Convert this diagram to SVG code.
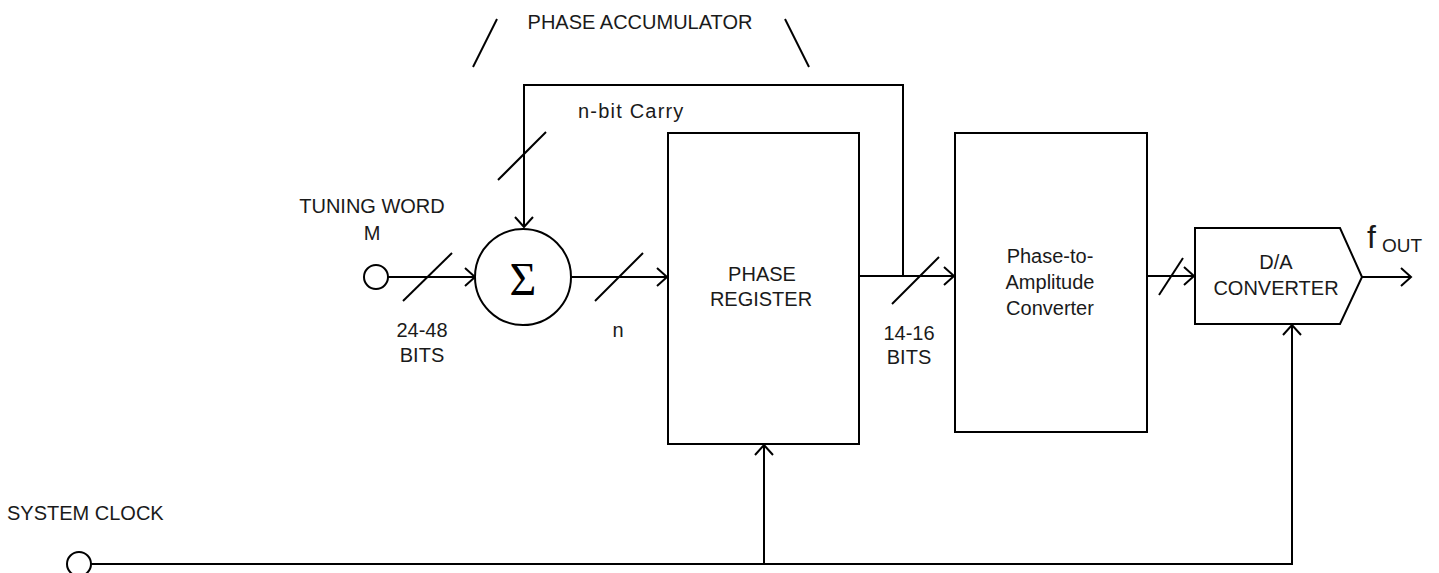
<svg xmlns="http://www.w3.org/2000/svg" width="1439" height="573" viewBox="0 0 1439 573">
<style>
.ln{stroke:#000;stroke-width:2;fill:none}
.bx{stroke:#000;stroke-width:2;fill:#fff}
.t{font-family:"Liberation Sans",Arial,sans-serif;font-size:20px;fill:#1a1a1a}
.m{text-anchor:middle}
.arr{marker-end:url(#ah)}
</style>
<defs>
<marker id="ah" markerUnits="userSpaceOnUse" viewBox="0 0 10 20" refX="10" refY="10" markerWidth="10" markerHeight="20" orient="auto" overflow="visible">
<path d="M0,1 L10,10 L0,19" fill="none" stroke="#000" stroke-width="2"/>
</marker>
</defs>
<rect width="1439" height="573" fill="#fff"/>
<g id="connectors">
<path class="ln arr" d="M388,277 H475"/>
<path class="ln arr" d="M571,277 H667"/>
<path class="ln arr" d="M859,276 H954"/>
<path class="ln arr" d="M1147,276 H1194"/>
<path class="ln arr" d="M1362,277 H1411"/>
<path class="ln arr" d="M903,276 V85 H524 V227"/>
<path class="ln arr" d="M91,564 H1292 V325"/>
<path class="ln arr" d="M764,564 V445"/>
<path class="ln" d="M403,301 L452,253"/>
<path class="ln" d="M595,301 L643,253"/>
<path class="ln" d="M498,180 L546,132"/>
<path class="ln" d="M892,304 L939,257"/>
<path class="ln" d="M1159,295 L1183,258"/>
</g>
<g id="phase-accumulator-label">
<text class="t m" x="640" y="29">PHASE ACCUMULATOR</text>
<path class="ln" d="M473,67 L497,19"/>
<path class="ln" d="M785,19 L809,67"/>
</g>
<g id="carry-label"><text class="t" x="578" y="118" style="letter-spacing:1.2px">n-bit Carry</text></g>
<g id="tuning-word">
<circle class="bx" cx="376" cy="277" r="12"/>
<text class="t m" x="372" y="213">TUNING WORD</text>
<text class="t m" x="372" y="240">M</text>
<text class="t m" x="422" y="337">24-48</text>
<text class="t m" x="422" y="362">BITS</text>
</g>
<g id="sigma">
<circle class="bx" cx="523" cy="277" r="48"/>
<text x="523" y="295" text-anchor="middle" font-family="'Liberation Serif','Times New Roman',serif" font-size="46" fill="#000">Σ</text>
</g>
<g id="n-label"><text class="t m" x="618" y="337">n</text></g>
<g id="phase-register">
<rect class="bx" x="668" y="133" width="191" height="311"/>
<text class="t m" x="762" y="281">PHASE</text>
<text class="t m" x="761" y="306">REGISTER</text>
</g>
<g id="bits-label">
<text class="t m" x="909" y="340">14-16</text>
<text class="t m" x="909" y="364">BITS</text>
</g>
<g id="phase-to-amplitude">
<rect class="bx" x="955" y="133" width="192" height="299"/>
<text class="t m" x="1050" y="263">Phase-to-</text>
<text class="t m" x="1050" y="289">Amplitude</text>
<text class="t m" x="1050" y="315">Converter</text>
</g>
<g id="dac">
<path class="bx" d="M1195,228 H1340 L1362,277 L1340,324 H1195 Z"/>
<text class="t m" x="1276" y="269">D/A</text>
<text class="t m" x="1276" y="295">CONVERTER</text>
</g>
<g id="fout">
<text class="t" x="1367" y="248" style="font-size:32px">f</text>
<text class="t" x="1382" y="252" style="font-size:19px">OUT</text>
</g>
<g id="system-clock">
<circle class="bx" cx="79" cy="564" r="12"/>
<text class="t" x="7" y="520">SYSTEM CLOCK</text>
</g>
</svg>
